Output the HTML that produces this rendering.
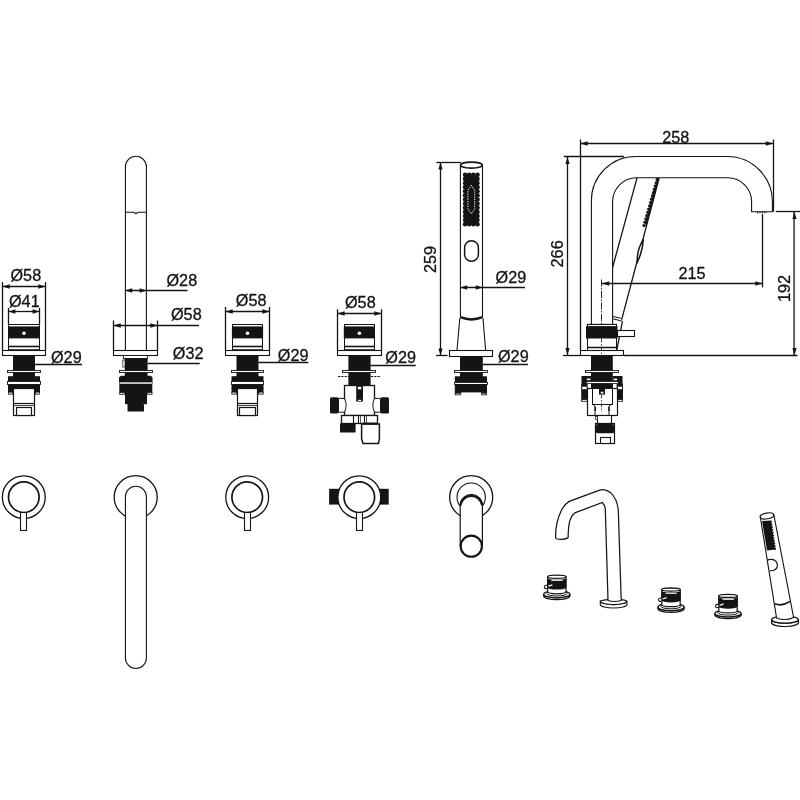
<!DOCTYPE html>
<html><head><meta charset="utf-8"><title>Bath faucet set - technical drawing</title>
<style>
html,body{margin:0;padding:0;background:#fff;}
body{width:800px;height:800px;overflow:hidden;}
svg{display:block;}
text{font-family:"Liberation Sans",sans-serif;fill:#141414;stroke:#141414;stroke-width:0.3px;}
svg{will-change:transform;}
</style></head><body>
<svg width="800" height="800" viewBox="0 0 800 800">
<rect x="0" y="0" width="800" height="800" fill="#fff"/>
<line x1="2.5" y1="282" x2="2.5" y2="351" stroke="#141414" stroke-width="1.3" />
<line x1="45.5" y1="282" x2="45.5" y2="351" stroke="#141414" stroke-width="1.3" />
<rect x="8.5" y="324.5" width="31.0" height="26.0" fill="#fff" stroke="#141414" stroke-width="1" />
<rect x="8.4" y="326.4" width="31.2" height="12.0" fill="#141414" />
<circle cx="24" cy="333.3" r="1.8" fill="#fff" stroke="none" stroke-width="0"/>
<line x1="8.7" y1="346.5" x2="39.3" y2="346.5" stroke="#141414" stroke-width="1.6" />
<line x1="8.7" y1="349.5" x2="39.3" y2="349.5" stroke="#141414" stroke-width="0.8" />
<rect x="2.5" y="350.5" width="43.0" height="5.0" fill="#fff" stroke="#141414" stroke-width="1.1" />
<rect x="13" y="355" width="22" height="22" fill="#141414" />
<rect x="7.5" y="370.5" width="33.0" height="2.0" fill="#fff" stroke="#141414" stroke-width="0.9" />
<rect x="8" y="376.2" width="32" height="5.0" fill="#141414" />
<rect x="7.5" y="381.5" width="33.0" height="3.0" fill="#fff" stroke="#141414" stroke-width="0.9" />
<rect x="8" y="384.2" width="32" height="4.6" fill="#141414" />
<rect x="8" y="388" width="5.7" height="6.4" fill="#141414" />
<rect x="34.3" y="388" width="5.7" height="6.4" fill="#141414" />
<rect x="8.4" y="392.2" width="4.3" height="1.8" fill="#fff" stroke="#141414" stroke-width="0.6" />
<rect x="35.3" y="392.2" width="4.3" height="1.8" fill="#fff" stroke="#141414" stroke-width="0.6" />
<rect x="13.5" y="388.5" width="21.0" height="27.0" fill="#fff" stroke="#141414" stroke-width="1.2" />
<line x1="13.8" y1="403.5" x2="34.2" y2="403.5" stroke="#141414" stroke-width="1.2" />
<line x1="13.8" y1="405.5" x2="34.2" y2="405.5" stroke="#141414" stroke-width="0.8" />
<rect x="16.5" y="407.5" width="15.0" height="8.0" fill="#fff" stroke="#141414" stroke-width="1.2" />
<line x1="8.5" y1="308" x2="8.5" y2="325" stroke="#141414" stroke-width="1.3" />
<line x1="39.5" y1="308" x2="39.5" y2="325" stroke="#141414" stroke-width="1.3" />
<line x1="8.6" y1="311.5" x2="39.4" y2="311.5" stroke="#141414" stroke-width="1.3" />
<polygon points="8.6,311.5 15.399999999999999,309.35 15.399999999999999,313.65" fill="#141414"/>
<polygon points="39.4,311.5 32.6,309.35 32.6,313.65" fill="#141414"/>
<line x1="2.5" y1="286.5" x2="45.5" y2="286.5" stroke="#141414" stroke-width="1.3" />
<polygon points="2.5,286.5 9.7,284.25 9.7,288.75" fill="#141414"/>
<polygon points="45.5,286.5 38.3,284.25 38.3,288.75" fill="#141414"/>
<text transform="translate(10.5 280.8) scale(1.04 1)" font-size="15.6">Ø58</text>
<text transform="translate(9.0 307) scale(1.04 1)" font-size="15.6">Ø41</text>
<line x1="35" y1="364.5" x2="82" y2="364.5" stroke="#141414" stroke-width="1.3" />
<text transform="translate(51 363) scale(1.04 1)" font-size="15.6">Ø29</text>
<path d="M125.4,350.5 V166.8 A10.5,10.5 0 0 1 146.4,166.8 V350.5" fill="#fff" stroke="#141414" stroke-width="1.1" />
<path d="M125.4,212.3 H133.5 L135.9,213.6 L138.3,212.3 H146.4" fill="none" stroke="#141414" stroke-width="1.1" />
<line x1="113.5" y1="320.5" x2="113.5" y2="351" stroke="#141414" stroke-width="1.3" />
<line x1="157.5" y1="320.5" x2="157.5" y2="351" stroke="#141414" stroke-width="1.3" />
<rect x="113.5" y="350.5" width="44.0" height="5.0" fill="#fff" stroke="#141414" stroke-width="1.1" />
<line x1="125.4" y1="290.5" x2="187.5" y2="290.5" stroke="#141414" stroke-width="1.3" />
<polygon points="125.4,290.5 132.20000000000002,288.35 132.20000000000002,292.65" fill="#141414"/>
<polygon points="146.4,290.5 139.6,288.35 139.6,292.65" fill="#141414"/>
<text transform="translate(166.5 286) scale(1.04 1)" font-size="15.6">Ø28</text>
<line x1="113.6" y1="325.5" x2="199" y2="325.5" stroke="#141414" stroke-width="1.3" />
<polygon points="113.6,325.5 120.8,323.25 120.8,327.75" fill="#141414"/>
<polygon points="157.5,325.5 150.3,323.25 150.3,327.75" fill="#141414"/>
<text transform="translate(171 320.2) scale(1.04 1)" font-size="15.6">Ø58</text>
<line x1="147.5" y1="363.5" x2="199.7" y2="363.5" stroke="#141414" stroke-width="1.3" />
<text transform="translate(172.8 358.8) scale(1.04 1)" font-size="15.6">Ø32</text>
<rect x="123.5" y="355.5" width="24.0" height="3.0" fill="#fff" stroke="#141414" stroke-width="0.9" />
<rect x="124.8" y="358.4" width="22.8" height="18.6" fill="#141414" />
<rect x="122.8" y="360" width="2.2" height="7" fill="#fff" stroke="#141414" stroke-width="0.7" />
<rect x="119.5" y="370.5" width="33.0" height="2.0" fill="#fff" stroke="#141414" stroke-width="0.9" />
<path d="M121,375.8 H151 L152.5,377.5 V382 H119 V377.5 Z" fill="#141414" stroke="#141414" stroke-width="0" />
<rect x="119.3" y="382.1" width="33.0" height="1.9" fill="#fff" stroke="#141414" stroke-width="0.5" />
<rect x="119.3" y="384" width="33.0" height="10.5" fill="#141414" />
<rect x="119.8" y="392.8" width="4.8" height="1.4" fill="#fff" stroke="#141414" stroke-width="0.6" />
<rect x="147.2" y="392.8" width="4.8" height="1.4" fill="#fff" stroke="#141414" stroke-width="0.6" />
<rect x="125" y="394" width="22" height="10.2" fill="#141414" />
<rect x="127.5" y="404" width="16.5" height="7.6" rx="1.2" fill="#141414"/>
<line x1="225.5" y1="307" x2="225.5" y2="351" stroke="#141414" stroke-width="1.3" />
<line x1="269.5" y1="307" x2="269.5" y2="351" stroke="#141414" stroke-width="1.3" />
<rect x="232.5" y="324.5" width="30.0" height="26.0" fill="#fff" stroke="#141414" stroke-width="1" />
<rect x="231.9" y="326.4" width="31.2" height="12.0" fill="#141414" />
<circle cx="247.5" cy="333.3" r="1.8" fill="#fff" stroke="none" stroke-width="0"/>
<line x1="232.2" y1="346.5" x2="262.8" y2="346.5" stroke="#141414" stroke-width="1.6" />
<line x1="232.2" y1="349.5" x2="262.8" y2="349.5" stroke="#141414" stroke-width="0.8" />
<rect x="225.5" y="350.5" width="44.0" height="5.0" fill="#fff" stroke="#141414" stroke-width="1.1" />
<rect x="236.5" y="355" width="22.0" height="22" fill="#141414" />
<rect x="231.5" y="370.5" width="32.0" height="2.0" fill="#fff" stroke="#141414" stroke-width="0.9" />
<rect x="231.5" y="376.2" width="32.0" height="5.0" fill="#141414" />
<rect x="231.5" y="381.5" width="32.0" height="3.0" fill="#fff" stroke="#141414" stroke-width="0.9" />
<rect x="231.5" y="384.2" width="32.0" height="4.6" fill="#141414" />
<rect x="231.5" y="388" width="5.7" height="6.4" fill="#141414" />
<rect x="257.8" y="388" width="5.7" height="6.4" fill="#141414" />
<rect x="231.9" y="392.2" width="4.3" height="1.8" fill="#fff" stroke="#141414" stroke-width="0.6" />
<rect x="258.8" y="392.2" width="4.3" height="1.8" fill="#fff" stroke="#141414" stroke-width="0.6" />
<rect x="237.5" y="388.5" width="20.0" height="27.0" fill="#fff" stroke="#141414" stroke-width="1.2" />
<line x1="237.3" y1="403.5" x2="257.7" y2="403.5" stroke="#141414" stroke-width="1.2" />
<line x1="237.3" y1="405.5" x2="257.7" y2="405.5" stroke="#141414" stroke-width="0.8" />
<rect x="239.5" y="407.5" width="16.0" height="8.0" fill="#fff" stroke="#141414" stroke-width="1.2" />
<line x1="225.5" y1="311.5" x2="269.5" y2="311.5" stroke="#141414" stroke-width="1.3" />
<polygon points="225.5,311.5 232.7,309.25 232.7,313.75" fill="#141414"/>
<polygon points="269.5,311.5 262.3,309.25 262.3,313.75" fill="#141414"/>
<text transform="translate(235.8 306) scale(1.04 1)" font-size="15.6">Ø58</text>
<line x1="258.5" y1="362.5" x2="308.3" y2="362.5" stroke="#141414" stroke-width="1.3" />
<text transform="translate(277.8 361) scale(1.04 1)" font-size="15.6">Ø29</text>
<line x1="337.5" y1="309.3" x2="337.5" y2="351" stroke="#141414" stroke-width="1.3" />
<line x1="381.5" y1="309.3" x2="381.5" y2="351" stroke="#141414" stroke-width="1.3" />
<rect x="344.5" y="324.5" width="30.0" height="26.0" fill="#fff" stroke="#141414" stroke-width="1" />
<rect x="343.79999999999995" y="326.4" width="31.2" height="12.0" fill="#141414" />
<circle cx="359.4" cy="333.3" r="1.8" fill="#fff" stroke="none" stroke-width="0"/>
<line x1="344.09999999999997" y1="346.5" x2="374.7" y2="346.5" stroke="#141414" stroke-width="1.6" />
<line x1="344.09999999999997" y1="349.5" x2="374.7" y2="349.5" stroke="#141414" stroke-width="0.8" />
<rect x="337.5" y="350.5" width="44.0" height="5.0" fill="#fff" stroke="#141414" stroke-width="1.1" />
<line x1="337.5" y1="313.5" x2="381.5" y2="313.5" stroke="#141414" stroke-width="1.3" />
<polygon points="337.5,313.5 344.7,311.25 344.7,315.75" fill="#141414"/>
<polygon points="381.5,313.5 374.3,311.25 374.3,315.75" fill="#141414"/>
<text transform="translate(345 308.4) scale(1.04 1)" font-size="15.6">Ø58</text>
<line x1="370.4" y1="365.5" x2="415.8" y2="365.5" stroke="#141414" stroke-width="1.3" />
<text transform="translate(385.3 363.4) scale(1.04 1)" font-size="15.6">Ø29</text>
<rect x="348.4" y="355" width="22.2" height="30.5" fill="#141414" />
<rect x="342.5" y="370.5" width="33.0" height="2.0" fill="#fff" stroke="#141414" stroke-width="0.9" />
<line x1="338" y1="376.5" x2="381" y2="376.5" stroke="#141414" stroke-width="1.2" stroke-dasharray="2.2 1.1"/>
<rect x="344.5" y="385.5" width="30.0" height="30.0" fill="#fff" stroke="#141414" stroke-width="1.3" />
<rect x="356.2" y="385" width="6.8" height="16.5" fill="#141414" />
<rect x="357.7" y="386.6" width="3.8" height="3.0" fill="#fff" stroke="#141414" stroke-width="0.5" />
<rect x="357.9" y="399.6" width="3.4" height="1.6" fill="#fff" stroke="#141414" stroke-width="0.5" />
<path d="M344.5,398.4 H338.5 V412.2 H344.5 Q347.8,405.3 344.5,398.4 Z" fill="#fff" stroke="#141414" stroke-width="1" />
<path d="M374.5,398.4 H380.5 V412.2 H374.5 Q371.2,405.3 374.5,398.4 Z" fill="#fff" stroke="#141414" stroke-width="1" />
<rect x="330" y="397.3" width="8.6" height="16.3" rx="1.6" fill="#141414"/>
<rect x="380.4" y="397.3" width="8.6" height="16.3" rx="1.6" fill="#141414"/>
<rect x="341.5" y="415.5" width="36.0" height="8.0" fill="#fff" stroke="#141414" stroke-width="1.3" />
<line x1="353.5" y1="415.4" x2="353.5" y2="423" stroke="#141414" stroke-width="1.1" />
<line x1="358.5" y1="415.4" x2="358.5" y2="423" stroke="#141414" stroke-width="1.1" />
<line x1="364.5" y1="415.4" x2="364.5" y2="423" stroke="#141414" stroke-width="1.1" />
<line x1="360.5" y1="415.4" x2="360.5" y2="423" stroke="#141414" stroke-width="0.7" />
<line x1="366.5" y1="415.4" x2="366.5" y2="423" stroke="#141414" stroke-width="0.7" />
<rect x="340" y="423" width="15.6" height="9.6" rx="1.2" fill="#141414"/>
<path d="M361.6,424 H379.4 V439 L378.4,443.4 H363 L361.6,439 Z" fill="#fff" stroke="#141414" stroke-width="1.5" />
<rect x="362.5" y="422.6" width="15.3" height="2.0" fill="#141414" />
<path d="M460.4,165.3 V317 M482.5,165.3 V317" fill="none" stroke="#141414" stroke-width="1.1" />
<ellipse cx="471.4" cy="165.1" rx="10.9" ry="3.0" fill="#fff" stroke="#141414" stroke-width="1.6" />
<line x1="436.3" y1="162.5" x2="461" y2="162.5" stroke="#141414" stroke-width="1.3" />
<line x1="440.5" y1="162.5" x2="440.5" y2="355.5" stroke="#141414" stroke-width="1.3" />
<polygon points="440.5,162.3 438.4,169.5 442.6,169.5" fill="#141414"/>
<polygon points="440.5,355.6 438.4,348.40000000000003 442.6,348.40000000000003" fill="#141414"/>
<line x1="436" y1="355.5" x2="447.6" y2="355.5" stroke="#141414" stroke-width="1.3" />
<text transform="translate(435.9 273) rotate(-90) scale(1.04 1)" font-size="15.6">259</text>
<circle cx="465.1" cy="174.8" r="2.3" fill="#141414" stroke="none" stroke-width="0"/>
<circle cx="469.23" cy="174.8" r="2.3" fill="#141414" stroke="none" stroke-width="0"/>
<circle cx="473.36" cy="174.8" r="2.3" fill="#141414" stroke="none" stroke-width="0"/>
<circle cx="477.49" cy="174.8" r="2.3" fill="#141414" stroke="none" stroke-width="0"/>
<circle cx="465.1" cy="178.92" r="2.3" fill="#141414" stroke="none" stroke-width="0"/>
<circle cx="469.23" cy="178.92" r="2.3" fill="#141414" stroke="none" stroke-width="0"/>
<circle cx="473.36" cy="178.92" r="2.3" fill="#141414" stroke="none" stroke-width="0"/>
<circle cx="477.49" cy="178.92" r="2.3" fill="#141414" stroke="none" stroke-width="0"/>
<circle cx="465.1" cy="183.04" r="2.3" fill="#141414" stroke="none" stroke-width="0"/>
<circle cx="469.23" cy="183.04" r="2.3" fill="#141414" stroke="none" stroke-width="0"/>
<circle cx="473.36" cy="183.04" r="2.3" fill="#141414" stroke="none" stroke-width="0"/>
<circle cx="477.49" cy="183.04" r="2.3" fill="#141414" stroke="none" stroke-width="0"/>
<circle cx="465.1" cy="187.16" r="2.3" fill="#141414" stroke="none" stroke-width="0"/>
<circle cx="469.23" cy="187.16" r="2.3" fill="#141414" stroke="none" stroke-width="0"/>
<circle cx="473.36" cy="187.16" r="2.3" fill="#141414" stroke="none" stroke-width="0"/>
<circle cx="477.49" cy="187.16" r="2.3" fill="#141414" stroke="none" stroke-width="0"/>
<circle cx="465.1" cy="191.28" r="2.3" fill="#141414" stroke="none" stroke-width="0"/>
<circle cx="469.23" cy="191.28" r="2.3" fill="#141414" stroke="none" stroke-width="0"/>
<circle cx="473.36" cy="191.28" r="2.3" fill="#141414" stroke="none" stroke-width="0"/>
<circle cx="477.49" cy="191.28" r="2.3" fill="#141414" stroke="none" stroke-width="0"/>
<circle cx="465.1" cy="195.4" r="2.3" fill="#141414" stroke="none" stroke-width="0"/>
<circle cx="469.23" cy="195.4" r="2.3" fill="#141414" stroke="none" stroke-width="0"/>
<circle cx="473.36" cy="195.4" r="2.3" fill="#141414" stroke="none" stroke-width="0"/>
<circle cx="477.49" cy="195.4" r="2.3" fill="#141414" stroke="none" stroke-width="0"/>
<circle cx="465.1" cy="199.52" r="2.3" fill="#141414" stroke="none" stroke-width="0"/>
<circle cx="469.23" cy="199.52" r="2.3" fill="#141414" stroke="none" stroke-width="0"/>
<circle cx="473.36" cy="199.52" r="2.3" fill="#141414" stroke="none" stroke-width="0"/>
<circle cx="477.49" cy="199.52" r="2.3" fill="#141414" stroke="none" stroke-width="0"/>
<circle cx="465.1" cy="203.64" r="2.3" fill="#141414" stroke="none" stroke-width="0"/>
<circle cx="469.23" cy="203.64" r="2.3" fill="#141414" stroke="none" stroke-width="0"/>
<circle cx="473.36" cy="203.64" r="2.3" fill="#141414" stroke="none" stroke-width="0"/>
<circle cx="477.49" cy="203.64" r="2.3" fill="#141414" stroke="none" stroke-width="0"/>
<circle cx="465.1" cy="207.76" r="2.3" fill="#141414" stroke="none" stroke-width="0"/>
<circle cx="469.23" cy="207.76" r="2.3" fill="#141414" stroke="none" stroke-width="0"/>
<circle cx="473.36" cy="207.76" r="2.3" fill="#141414" stroke="none" stroke-width="0"/>
<circle cx="477.49" cy="207.76" r="2.3" fill="#141414" stroke="none" stroke-width="0"/>
<circle cx="465.1" cy="211.88" r="2.3" fill="#141414" stroke="none" stroke-width="0"/>
<circle cx="469.23" cy="211.88" r="2.3" fill="#141414" stroke="none" stroke-width="0"/>
<circle cx="473.36" cy="211.88" r="2.3" fill="#141414" stroke="none" stroke-width="0"/>
<circle cx="477.49" cy="211.88" r="2.3" fill="#141414" stroke="none" stroke-width="0"/>
<circle cx="465.1" cy="216.0" r="2.3" fill="#141414" stroke="none" stroke-width="0"/>
<circle cx="469.23" cy="216.0" r="2.3" fill="#141414" stroke="none" stroke-width="0"/>
<circle cx="473.36" cy="216.0" r="2.3" fill="#141414" stroke="none" stroke-width="0"/>
<circle cx="477.49" cy="216.0" r="2.3" fill="#141414" stroke="none" stroke-width="0"/>
<circle cx="465.1" cy="220.12" r="2.3" fill="#141414" stroke="none" stroke-width="0"/>
<circle cx="469.23" cy="220.12" r="2.3" fill="#141414" stroke="none" stroke-width="0"/>
<circle cx="473.36" cy="220.12" r="2.3" fill="#141414" stroke="none" stroke-width="0"/>
<circle cx="477.49" cy="220.12" r="2.3" fill="#141414" stroke="none" stroke-width="0"/>
<circle cx="465.1" cy="224.24" r="2.3" fill="#141414" stroke="none" stroke-width="0"/>
<circle cx="469.23" cy="224.24" r="2.3" fill="#141414" stroke="none" stroke-width="0"/>
<circle cx="473.36" cy="224.24" r="2.3" fill="#141414" stroke="none" stroke-width="0"/>
<circle cx="477.49" cy="224.24" r="2.3" fill="#141414" stroke="none" stroke-width="0"/>
<rect x="465.4" y="175.1" width="11.8" height="48.8" fill="#141414" />
<path d="M471.3,185.3 L474.7,190.4 V208.8 L471.3,213.8 L467.9,208.8 V190.4 Z" fill="none" stroke="#fff" stroke-width="1" stroke-dasharray="1.3 1.1"/>
<rect x="464.6" y="240.7" width="13.8" height="20.6" rx="6.9" fill="#fff" stroke="#141414" stroke-width="1.5"/>
<line x1="460.4" y1="287.5" x2="525" y2="287.5" stroke="#141414" stroke-width="1.3" />
<polygon points="460.4,287.5 467.2,285.35 467.2,289.65" fill="#141414"/>
<polygon points="482.5,287.5 475.7,285.35 475.7,289.65" fill="#141414"/>
<text transform="translate(495.6 282.6) scale(1.04 1)" font-size="15.6">Ø29</text>
<path d="M460.4,317.2 Q471.4,321.6 482.5,317.2" fill="none" stroke="#141414" stroke-width="2.5" />
<path d="M459.8,318 L457,350.3 M483,318 L485.6,350.3" fill="none" stroke="#141414" stroke-width="1.1" />
<rect x="449.5" y="350.5" width="43.0" height="6.0" fill="#fff" stroke="#141414" stroke-width="1.1" />
<line x1="483" y1="364.5" x2="528" y2="364.5" stroke="#141414" stroke-width="1.3" />
<text transform="translate(498 362.4) scale(1.04 1)" font-size="15.6">Ø29</text>
<rect x="460" y="356" width="22.8" height="21" fill="#141414" />
<rect x="454.5" y="370.5" width="33.0" height="2.0" fill="#fff" stroke="#141414" stroke-width="0.9" />
<rect x="454.8" y="376.3" width="32.2" height="5.7" fill="#141414" />
<rect x="454.5" y="382.5" width="33.0" height="2.0" fill="#fff" stroke="#141414" stroke-width="0.9" />
<rect x="454.8" y="384" width="32.2" height="8.4" fill="#141414" />
<rect x="454.8" y="392" width="6.4" height="3.2" fill="#141414" />
<rect x="481.3" y="392" width="5.7" height="3.2" fill="#141414" />
<rect x="455.4" y="393.3" width="5.2" height="1.5" fill="#fff" stroke="#141414" stroke-width="0.5" />
<rect x="481.9" y="393.3" width="4.5" height="1.5" fill="#fff" stroke="#141414" stroke-width="0.5" />
<line x1="580.5" y1="139.5" x2="580.5" y2="350.5" stroke="#141414" stroke-width="1.3" />
<line x1="773.5" y1="139.5" x2="773.5" y2="211.6" stroke="#141414" stroke-width="1.3" />
<line x1="580.4" y1="143.5" x2="773" y2="143.5" stroke="#141414" stroke-width="1.3" />
<polygon points="580.4,143.5 587.6,141.25 587.6,145.75" fill="#141414"/>
<polygon points="773,143.5 765.8,141.25 765.8,145.75" fill="#141414"/>
<text transform="translate(662.3 143.2) scale(1.04 1)" font-size="15.6">258</text>
<line x1="563.8" y1="156.5" x2="624" y2="156.5" stroke="#141414" stroke-width="1.3" />
<line x1="567.5" y1="157" x2="567.5" y2="355" stroke="#141414" stroke-width="1.3" />
<polygon points="567.5,156.9 565.4,164.1 569.6,164.1" fill="#141414"/>
<polygon points="567.5,355.3 565.4,348.1 569.6,348.1" fill="#141414"/>
<line x1="563" y1="355.5" x2="580.4" y2="355.5" stroke="#141414" stroke-width="1.3" />
<text transform="translate(562.6 267.4) rotate(-90) scale(1.04 1)" font-size="15.6">266</text>
<line x1="624" y1="355.5" x2="797.5" y2="355.5" stroke="#141414" stroke-width="1.3" />
<line x1="775.8" y1="211.5" x2="800" y2="211.5" stroke="#141414" stroke-width="1.3" />
<line x1="794.05" y1="212" x2="794.05" y2="355" stroke="#141414" stroke-width="1.3" />
<polygon points="794.5,211.9 792.4,219.1 796.6,219.1" fill="#141414"/>
<polygon points="794.5,355.2 792.4,348.0 796.6,348.0" fill="#141414"/>
<text transform="translate(790.2 302.1) rotate(-90) scale(1.04 1)" font-size="15.6">192</text>
<path d="M591.4,324 V200.7 A44.2,44.2 0 0 1 635.6,156.5 H727.2 A45.2,45.2 0 0 1 772.4,201.7 V211.8 H751.6 V201.6 A23.8,23.8 0 0 0 727.8,177.8 H636.4 A23.8,23.8 0 0 0 612.6,201.6 V324" fill="#fff" stroke="#141414" stroke-width="1.1" />
<line x1="757" y1="212.5" x2="767" y2="212.5" stroke="#141414" stroke-width="1.3" stroke-dasharray="1.2 1.2"/>
<line x1="637" y1="177.9" x2="612.6" y2="267.5" stroke="#141414" stroke-width="1.3" />
<line x1="659.2" y1="177.9" x2="621.6" y2="319.8" stroke="#141414" stroke-width="1.3" />
<circle cx="657.1" cy="179.5" r="1.6" fill="#141414" stroke="none" stroke-width="0"/>
<circle cx="656.16" cy="182.79" r="1.6" fill="#141414" stroke="none" stroke-width="0"/>
<circle cx="655.23" cy="186.07" r="1.6" fill="#141414" stroke="none" stroke-width="0"/>
<circle cx="654.29" cy="189.36" r="1.6" fill="#141414" stroke="none" stroke-width="0"/>
<circle cx="653.36" cy="192.64" r="1.6" fill="#141414" stroke="none" stroke-width="0"/>
<circle cx="652.42" cy="195.93" r="1.6" fill="#141414" stroke="none" stroke-width="0"/>
<circle cx="651.49" cy="199.21" r="1.6" fill="#141414" stroke="none" stroke-width="0"/>
<circle cx="650.55" cy="202.5" r="1.6" fill="#141414" stroke="none" stroke-width="0"/>
<circle cx="649.61" cy="205.79" r="1.6" fill="#141414" stroke="none" stroke-width="0"/>
<circle cx="648.68" cy="209.07" r="1.6" fill="#141414" stroke="none" stroke-width="0"/>
<circle cx="647.74" cy="212.36" r="1.6" fill="#141414" stroke="none" stroke-width="0"/>
<circle cx="646.81" cy="215.64" r="1.6" fill="#141414" stroke="none" stroke-width="0"/>
<circle cx="645.87" cy="218.93" r="1.6" fill="#141414" stroke="none" stroke-width="0"/>
<circle cx="644.94" cy="222.21" r="1.6" fill="#141414" stroke="none" stroke-width="0"/>
<circle cx="644.0" cy="225.5" r="1.6" fill="#141414" stroke="none" stroke-width="0"/>
<path d="M659.2,177.9 L646.6,225 L645,224.6 L657.4,177.9 Z" fill="#141414" stroke="#141414" stroke-width="0" />
<path d="M643.4,239.4 Q636.6,250 637.4,262 Q642.4,252 643.4,239.4 Z" fill="#fff" stroke="#141414" stroke-width="1.5" />
<path d="M612.6,316.4 L620.9,318.3 M612.6,318.7 L622.7,321.3" fill="none" stroke="#141414" stroke-width="1" />
<line x1="622.4" y1="321.6" x2="616.8" y2="350" stroke="#141414" stroke-width="1.3" />
<line x1="602" y1="283.5" x2="762.5" y2="283.5" stroke="#141414" stroke-width="1.3" />
<polygon points="602,283.5 609.2,281.25 609.2,285.75" fill="#141414"/>
<polygon points="762.5,283.5 755.3,281.25 755.3,285.75" fill="#141414"/>
<line x1="762.5" y1="214" x2="762.5" y2="287.4" stroke="#141414" stroke-width="1.3" />
<text transform="translate(678.4 279.3) scale(1.04 1)" font-size="15.6">215</text>
<line x1="601.5" y1="279.5" x2="601.5" y2="324" stroke="#141414" stroke-width="0.9" stroke-dasharray="7 1.5 1.5 1.5"/>
<line x1="586.8" y1="324.5" x2="616.8" y2="324.5" stroke="#141414" stroke-width="1.3" />
<rect x="587.5" y="324.5" width="29.0" height="26.0" fill="#fff" stroke="#141414" stroke-width="1" />
<rect x="586" y="326.1" width="31.5" height="12.4" fill="#141414" />
<rect x="617.5" y="330.5" width="17.0" height="6.0" fill="#fff" stroke="#141414" stroke-width="1.1" />
<line x1="587.2" y1="347.5" x2="616.6" y2="347.5" stroke="#141414" stroke-width="1.5" />
<rect x="580.5" y="350.5" width="43.0" height="5.0" fill="#fff" stroke="#141414" stroke-width="1.1" />
<rect x="591" y="355" width="21.8" height="34" fill="#141414" />
<rect x="585.5" y="370.5" width="33.0" height="2.0" fill="#fff" stroke="#141414" stroke-width="0.9" />
<rect x="581.5" y="376" width="9.5" height="6.2" fill="#141414" />
<rect x="612.8" y="376" width="9.7" height="6.2" fill="#141414" />
<rect x="586.8" y="378.2" width="3.8" height="2.2" fill="#fff" stroke="#141414" stroke-width="0.5" />
<rect x="613.4" y="378.2" width="3.8" height="2.2" fill="#fff" stroke="#141414" stroke-width="0.5" />
<rect x="586.5" y="381.5" width="32.0" height="2.0" fill="#fff" stroke="#141414" stroke-width="0.8" />
<rect x="581.5" y="381.8" width="4.5" height="2.4" fill="#141414" />
<rect x="618" y="381.8" width="4.5" height="2.4" fill="#141414" />
<rect x="581.2" y="383.8" width="6.4" height="17.8" fill="#141414" />
<rect x="616.6" y="383.8" width="6.4" height="17.8" fill="#141414" />
<rect x="582" y="386.4" width="5" height="3.0" fill="#fff" stroke="#141414" stroke-width="0.5" />
<rect x="617.2" y="386.4" width="5.0" height="3.0" fill="#fff" stroke="#141414" stroke-width="0.5" />
<rect x="582" y="399.8" width="5" height="1.4" fill="#fff" stroke="#141414" stroke-width="0.5" />
<rect x="617.2" y="399.8" width="5.0" height="1.4" fill="#fff" stroke="#141414" stroke-width="0.5" />
<rect x="587.5" y="388.5" width="30.0" height="27.0" fill="#fff" stroke="#141414" stroke-width="1.2" />
<rect x="591" y="383.8" width="22" height="5.0" fill="#141414" />
<rect x="592.5" y="388.5" width="20.0" height="16.0" fill="#fff" stroke="#141414" stroke-width="1" />
<rect x="599" y="388.6" width="6" height="6.0" fill="#141414" />
<rect x="600.6" y="391.6" width="3.0" height="2.2" fill="#fff" stroke="#141414" stroke-width="0.4" />
<path d="M592,404 L595,406 V415 M612,404 L609,406 V415" fill="none" stroke="#141414" stroke-width="1" />
<rect x="594.6" y="407" width="1.4" height="4" fill="#141414" />
<rect x="608.2" y="407" width="1.4" height="4" fill="#141414" />
<rect x="597.5" y="415.5" width="14.0" height="8.0" fill="#fff" stroke="#141414" stroke-width="1.1" />
<rect x="595.5" y="416.5" width="2.0" height="3.0" fill="#fff" stroke="#141414" stroke-width="0.7" />
<rect x="595.5" y="423.5" width="19.0" height="20.0" fill="#fff" stroke="#141414" stroke-width="1.2" />
<rect x="596" y="424" width="18" height="9.2" rx="1.5" fill="#141414"/>
<rect x="600.5" y="437.5" width="10.0" height="6.0" fill="#fff" stroke="#141414" stroke-width="1.1" />
<line x1="601.5" y1="338.5" x2="601.5" y2="355" stroke="#141414" stroke-width="0.8" stroke-dasharray="4 1.5 1.5 1.5"/>
<line x1="601.5" y1="394.6" x2="601.5" y2="412" stroke="#141414" stroke-width="0.8" stroke-dasharray="4 1.5 1.5 1.5"/>
<circle cx="23.8" cy="497.2" r="21.4" fill="#fff" stroke="#141414" stroke-width="1.3"/>
<circle cx="23.8" cy="497.2" r="15.3" fill="#fff" stroke="#141414" stroke-width="1.7"/>
<rect x="20.5" y="512.5" width="6.0" height="18.0" fill="#fff" stroke="#141414" stroke-width="1.1" />
<circle cx="247.2" cy="497.2" r="21.4" fill="#fff" stroke="#141414" stroke-width="1.3"/>
<circle cx="247.2" cy="497.2" r="15.3" fill="#fff" stroke="#141414" stroke-width="1.7"/>
<rect x="244.5" y="512.5" width="6.0" height="18.0" fill="#fff" stroke="#141414" stroke-width="1.1" />
<rect x="329.1" y="488.8" width="10.2" height="15.8" fill="#141414" />
<rect x="379.3" y="488.8" width="9.4" height="15.8" fill="#141414" />
<circle cx="359.3" cy="497.2" r="21.4" fill="#fff" stroke="#141414" stroke-width="1.3"/>
<circle cx="359.3" cy="497.2" r="15.3" fill="#fff" stroke="#141414" stroke-width="1.7"/>
<rect x="356.5" y="512.5" width="6.0" height="18.0" fill="#fff" stroke="#141414" stroke-width="1.1" />
<circle cx="135.7" cy="497.2" r="21.5" fill="#fff" stroke="#141414" stroke-width="1.3"/>
<path d="M125.4,658 V496.8 A10.5,10.5 0 0 1 146.4,496.8 V658 A10.5,10.5 0 0 1 125.4,658 Z" fill="#fff" stroke="#141414" stroke-width="1.1" />
<circle cx="471.2" cy="497.2" r="21.5" fill="#fff" stroke="#141414" stroke-width="1.3"/>
<circle cx="471.2" cy="497.2" r="14.2" fill="#fff" stroke="#141414" stroke-width="1.1"/>
<path d="M460.2,546.2 V505.6 A11.1,11.1 0 0 1 482.4,505.6 V546.2 Z" fill="#fff" stroke="#141414" stroke-width="0" />
<path d="M460.2,546.2 V505.6 A11.1,11.1 0 0 1 482.4,505.6 V546.2" fill="none" stroke="#141414" stroke-width="1.2" />
<path d="M460.4,505.4 A11,11 0 0 1 482.2,505.4" fill="none" stroke="#141414" stroke-width="2.2" />
<circle cx="471.3" cy="546.2" r="10.6" fill="#fff" stroke="#141414" stroke-width="2.1"/>
<path d="M555.7,538.5 C555.3,530 556.5,520 561.9,509.3 C564,505.4 566.5,503 569.2,501.4 L599,490.3 C603,488.9 607,489.8 610.3,492.4 C615,496.5 617.6,503.5 618.3,510 L621.2,600 M568.1,537.9 C568.2,530 568.6,524 570.3,519.4 C571.8,516 573.4,513.6 575.4,512.6 L602.4,502.5 C604,504.4 605,506.4 605.3,508.5 L608,600 M555.7,538.5 Q561.8,540.6 568.1,537.9" fill="none" stroke="#141414" stroke-width="1.25" />
<path d="M600.3,601 A13.3,3.6 0 0 0 626.9,601 V604.4 A13.3,3.6 0 0 1 600.3,604.4 Z" fill="#fff" stroke="#141414" stroke-width="1.1" />
<path d="M608,599.6 A13.3,3.6 0 0 0 600.3,601 A13.3,3.6 0 0 0 626.9,601 A13.3,3.6 0 0 0 621.2,599.6" fill="#fff" stroke="#141414" stroke-width="1.1" />
<path d="M608,598 L608,600.4 Q614.5,602.6 621.2,600.4 L621.2,598" fill="#fff" stroke="#141414" stroke-width="1.1" />
<path d="M543.6999999999999,594.2 A13.1,3.6 0 0 0 569.9,594.2 V596.0 A13.1,3.6 0 0 1 543.6999999999999,596.0 Z" fill="#fff" stroke="#141414" stroke-width="1.3" />
<ellipse cx="556.8" cy="594.2" rx="13.1" ry="3.6" fill="#fff" stroke="#141414" stroke-width="1.3" />
<ellipse cx="556.8" cy="593.4000000000001" rx="10.2" ry="2.6" fill="#fff" stroke="#141414" stroke-width="1" />
<path d="M547.5999999999999,576.8000000000001 V591.6 A9.2,2.2 0 0 0 566.0,591.6 V576.8000000000001 Z" fill="#fff" stroke="#141414" stroke-width="1.2" />
<path d="M547.1999999999999,578.0 V587.2 A9.6,2.4 0 0 0 566.4,587.2 V578.0 A9.6,1.8 0 0 1 547.1999999999999,578.0 Z" fill="#141414" stroke="#141414" stroke-width="0" />
<ellipse cx="556.8" cy="576.8000000000001" rx="9.2" ry="1.6" fill="#fff" stroke="#141414" stroke-width="1.3" />
<line x1="551.3" y1="580.5" x2="562.8" y2="580.5"  stroke-width="0.8" stroke="#fff"/>
<path d="M547.5999999999999,585.0 L545.1999999999999,585.4000000000001 Q543.4,587.0 545.1999999999999,588.6 L547.5999999999999,588.2 Z" fill="#fff" stroke="#141414" stroke-width="1.1" />
<line x1="548.4" y1="586.2" x2="552.4" y2="584.8000000000001"  stroke-width="1.3" stroke="#fff"/>
<path d="M657.9,607 A13.1,3.6 0 0 0 684.1,607 V608.8 A13.1,3.6 0 0 1 657.9,608.8 Z" fill="#fff" stroke="#141414" stroke-width="1.3" />
<ellipse cx="671" cy="607" rx="13.1" ry="3.6" fill="#fff" stroke="#141414" stroke-width="1.3" />
<ellipse cx="671" cy="606.2" rx="10.2" ry="2.6" fill="#fff" stroke="#141414" stroke-width="1" />
<path d="M661.8,589.6 V604.4 A9.2,2.2 0 0 0 680.2,604.4 V589.6 Z" fill="#fff" stroke="#141414" stroke-width="1.2" />
<path d="M661.4,590.8 V600 A9.6,2.4 0 0 0 680.6,600 V590.8 A9.6,1.8 0 0 1 661.4,590.8 Z" fill="#141414" stroke="#141414" stroke-width="0" />
<ellipse cx="671" cy="589.6" rx="9.2" ry="1.6" fill="#fff" stroke="#141414" stroke-width="1.3" />
<line x1="665.5" y1="593.5" x2="677" y2="593.5"  stroke-width="0.8" stroke="#fff"/>
<path d="M661.8,597.8 L659.4,598.2 Q657.6,599.8 659.4,601.4 L661.8,601 Z" fill="#fff" stroke="#141414" stroke-width="1.1" />
<line x1="662.6" y1="599" x2="666.6" y2="597.6"  stroke-width="1.3" stroke="#fff"/>
<path d="M714.9,613.3 A13.1,3.6 0 0 0 741.1,613.3 V615.0999999999999 A13.1,3.6 0 0 1 714.9,615.0999999999999 Z" fill="#fff" stroke="#141414" stroke-width="1.3" />
<ellipse cx="728" cy="613.3" rx="13.1" ry="3.6" fill="#fff" stroke="#141414" stroke-width="1.3" />
<ellipse cx="728" cy="612.5" rx="10.2" ry="2.6" fill="#fff" stroke="#141414" stroke-width="1" />
<path d="M718.8,595.9 V610.6999999999999 A9.2,2.2 0 0 0 737.2,610.6999999999999 V595.9 Z" fill="#fff" stroke="#141414" stroke-width="1.2" />
<path d="M718.4,597.0999999999999 V606.3 A9.6,2.4 0 0 0 737.6,606.3 V597.0999999999999 A9.6,1.8 0 0 1 718.4,597.0999999999999 Z" fill="#141414" stroke="#141414" stroke-width="0" />
<ellipse cx="728" cy="595.9" rx="9.2" ry="1.6" fill="#fff" stroke="#141414" stroke-width="1.3" />
<line x1="722.5" y1="599.5" x2="734" y2="599.5"  stroke-width="0.8" stroke="#fff"/>
<path d="M718.8,604.0999999999999 L716.4,604.5 Q714.6,606.0999999999999 716.4,607.6999999999999 L718.8,607.3 Z" fill="#fff" stroke="#141414" stroke-width="1.1" />
<line x1="719.6" y1="605.3" x2="723.6" y2="603.9"  stroke-width="1.3" stroke="#fff"/>
<path d="M771.6,620 A13.4,3.6 0 0 0 798.4,619.4 V622.4 A13.4,3.8 0 0 1 771.6,623 Z" fill="#fff" stroke="#141414" stroke-width="1.2" />
<ellipse cx="785" cy="619.6" rx="13.4" ry="3.6" fill="#fff" stroke="#141414" stroke-width="1.2" />
<path d="M760.3,517 L776.6,618 Q785,621.4 793.6,617.4 L773.8,514.6 Z" fill="#fff" stroke="#141414" stroke-width="1.1" />
<ellipse cx="767" cy="515.9" rx="6.9" ry="2.9" fill="#fff" stroke="#141414" stroke-width="1.2" transform="rotate(-9 767 515.9)"/>
<path d="M762,521 L771,520.6 L775.2,549.4 L767,550.6 Z" fill="#141414" stroke="#141414" stroke-width="0" />
<circle cx="771.2" cy="521.6" r="0.9" fill="#141414" stroke="none" stroke-width="0"/>
<circle cx="771.6" cy="524.34" r="0.9" fill="#141414" stroke="none" stroke-width="0"/>
<circle cx="772.0" cy="527.08" r="0.9" fill="#141414" stroke="none" stroke-width="0"/>
<circle cx="772.4" cy="529.82" r="0.9" fill="#141414" stroke="none" stroke-width="0"/>
<circle cx="772.8" cy="532.56" r="0.9" fill="#141414" stroke="none" stroke-width="0"/>
<circle cx="773.2" cy="535.3" r="0.9" fill="#141414" stroke="none" stroke-width="0"/>
<circle cx="773.6" cy="538.04" r="0.9" fill="#141414" stroke="none" stroke-width="0"/>
<circle cx="774.0" cy="540.78" r="0.9" fill="#141414" stroke="none" stroke-width="0"/>
<circle cx="774.4" cy="543.52" r="0.9" fill="#141414" stroke="none" stroke-width="0"/>
<circle cx="774.8" cy="546.26" r="0.9" fill="#141414" stroke="none" stroke-width="0"/>
<circle cx="775.2" cy="549.0" r="0.9" fill="#141414" stroke="none" stroke-width="0"/>
<path d="M767.6,559.8 Q776.4,558 777.4,564.6 Q777.8,570.8 769.6,571" fill="none" stroke="#141414" stroke-width="1.2" />
<path d="M774.6,603.8 Q782.4,606.6 790,601.4" fill="none" stroke="#141414" stroke-width="1.7" />
</svg>
</body></html>
